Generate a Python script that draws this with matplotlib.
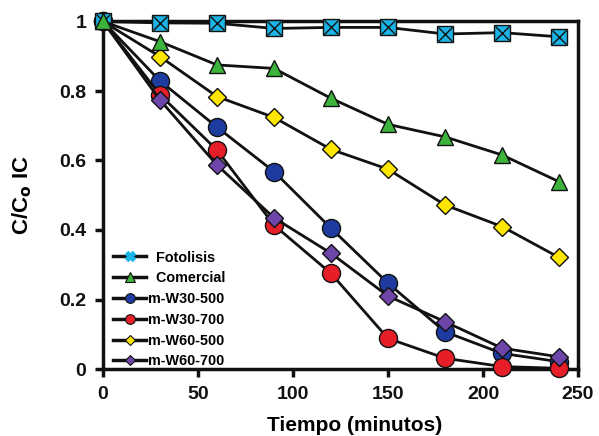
import matplotlib
matplotlib.use("Agg")
import matplotlib.pyplot as plt
import matplotlib.lines as mlines

plt.rcParams['font.family'] = ['Liberation Sans', 'DejaVu Sans']

tiempo = [0, 30, 60, 90, 120, 150, 180, 210, 240]
fotolisis = [1.0, 0.996, 0.995, 0.98, 0.983, 0.983, 0.964, 0.968, 0.956]
comercial = [1.0, 0.942, 0.875, 0.865, 0.779, 0.704, 0.668, 0.616, 0.539]
w30_500 = [1.0, 0.829, 0.696, 0.568, 0.405, 0.247, 0.107, 0.045, 0.021]
w30_700 = [1.0, 0.789, 0.630, 0.414, 0.275, 0.088, 0.031, 0.007, 0.002]
w60_500 = [1.0, 0.899, 0.784, 0.724, 0.632, 0.575, 0.472, 0.410, 0.321]
w60_700 = [1.0, 0.774, 0.587, 0.435, 0.333, 0.210, 0.136, 0.060, 0.035]

xticks = [0, 50, 100, 150, 200, 250]
yticks = [0, 0.2, 0.4, 0.6, 0.8, 1.0]
yticklabels = ['0', '0.2', '0.4', '0.6', '0.8', '1']

fig = plt.figure(figsize=(5.99, 4.36), dpi=100)
ax = fig.add_axes([103/599, 1-369/436, 475/599, 347.5/436])

series = [
    (fotolisis, '  Fotolisis', 's', '#1ab4e6', 12),
    (comercial, '  Comercial', '^', '#3cb43c', 12),
    (w30_500, 'm-W30-500', 'o', '#1e3ca0', 13),
    (w30_700, 'm-W30-700', 'o', '#e61e28', 13),
    (w60_500, 'm-W60-500', 'D', '#ffe600', 9),
    (w60_700, 'm-W60-700', 'D', '#6e46aa', 9),
]
zorders = [8, 9, 3, 4, 5, 6]
for (ys, lab, mk, col, ms), z in zip(series, zorders):
    ax.plot(tiempo, ys, color='#111111', lw=2, marker=mk, ms=ms,
            mfc=col, mec='#111111', mew=1, clip_on=False, zorder=z)
    if lab.strip() == 'Fotolisis':
        ax.plot(tiempo, ys, ls='none', marker='x', ms=ms*0.8, mec='#111111',
                mew=1, clip_on=False, zorder=z + 0.5)

leg_handles = []
for ys, lab, mk, col, ms in series:
    if lab.strip() == 'Fotolisis':
        h = mlines.Line2D([], [], color='#111111', lw=2.5, marker='X', ms=7,
                          mfc=col, mec=col)
    else:
        h = mlines.Line2D([], [], color='#111111', lw=2.5, marker=mk,
                          ms=7 if mk != 'D' else 5, mfc=col, mec='#111111', mew=0.8)
    leg_handles.append(h)
ax.legend(leg_handles, [s[1] for s in series], loc='upper left',
          bbox_to_anchor=(0.0, 0.37), frameon=False,
          prop={'weight': 'bold', 'size': 10.4}, handlelength=2.3,
          handletextpad=0.1, labelspacing=0.47, borderaxespad=0.3)

ax.set_xlim(0, 250)
ax.set_ylim(0, 1)
ax.set_xticks(xticks)
ax.set_yticks(yticks)
ax.set_yticklabels(yticklabels)
for sp in ax.spines.values():
    sp.set_linewidth(2.5)
    sp.set_color('#111111')
ax.tick_params(direction='out', length=6, width=2.5, labelsize=14,
               colors='#111111', pad=6)
for t in ax.get_xticklabels() + ax.get_yticklabels():
    t.set_fontweight('bold')
ax.set_xlabel('Tiempo (minutos)', fontsize=15, fontweight='bold')
ax.xaxis.set_label_coords(0.53, -0.164)
ax.xaxis.label.set_va('center')
ax.set_ylabel(r'C/C$_\mathbf{o}$ IC', fontsize=16, fontweight='bold')
ax.yaxis.set_label_coords(-0.17, 0.5)
ax.yaxis.label.set_va('center')

fig.savefig('out.png', dpi=100)
